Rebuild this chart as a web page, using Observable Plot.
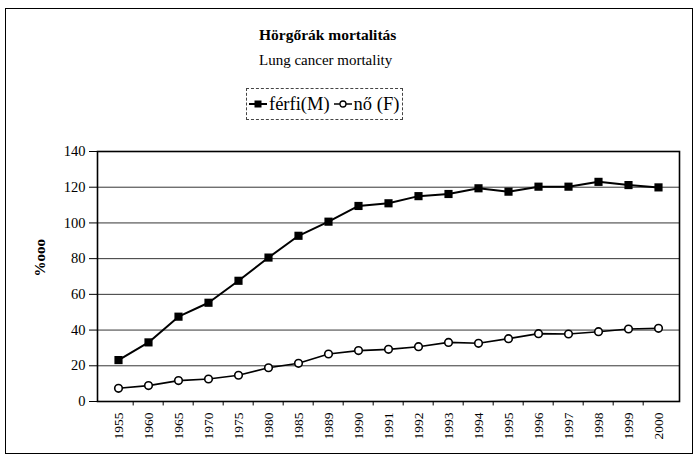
<!DOCTYPE html>
<html><head><meta charset="utf-8">
<script src="https://cdn.jsdelivr.net/npm/d3@7"></script>
<script src="https://cdn.jsdelivr.net/npm/@observablehq/plot@0.6"></script>
<style>
body{margin:0;background:#fff;font-family:"Liberation Serif","Times New Roman",serif;color:#000;}
#wrap{position:relative;width:696px;height:455px;overflow:hidden;background:#fff;}
#frame{position:absolute;left:5px;top:8px;width:688px;height:446px;border:1px solid #000;box-sizing:border-box;}
#title{position:absolute;left:259px;top:26px;font-size:15.5px;font-weight:bold;white-space:nowrap;}
#subtitle{position:absolute;left:259px;top:52px;font-size:15px;white-space:nowrap;}
#legend{position:absolute;left:246px;top:88px;height:30px;border:1px dashed #444;display:flex;align-items:center;padding:0 3px 0 2px;font-size:18.5px;white-space:nowrap;}
#legend .item{display:flex;align-items:center;margin-right:4px;}
#legend .item:last-child{margin-right:0;}
#legend svg{margin-right:2px;}
#chart{position:absolute;left:0;top:130px;}
</style></head>
<body>
<div id="wrap">
  <div id="frame"></div>
  <div id="title"></div>
  <div id="subtitle"></div>
  <div id="legend"></div>
  <div id="chart"></div>
</div>
<script>
const titleText = "Hörgőrák mortalitás";
const subtitleText = "Lung cancer mortality";
const yLabel = "%ooo";
const seriesNames = ["férfi(M)", "nő (F)"];
const years = ["1955","1960","1965","1970","1975","1980","1985","1989","1990","1991","1992","1993","1994","1995","1996","1997","1998","1999","2000"];
const male = [23.2, 33.1, 47.5, 55.3, 67.6, 80.6, 92.8, 100.7, 109.5, 111, 115, 116.2, 119.4, 117.5, 120.3, 120.3, 123, 121.2, 119.9];
const female = [7.4, 8.9, 11.7, 12.6, 14.7, 18.9, 21.4, 26.6, 28.5, 29.2, 30.7, 33.1, 32.6, 35.2, 38, 37.8, 39.1, 40.6, 41];
const yTicks = [0, 20, 40, 60, 80, 100, 120, 140];

document.getElementById("title").textContent = titleText;
document.getElementById("subtitle").textContent = subtitleText;

// legend
const leg = document.getElementById("legend");
seriesNames.forEach((name, i) => {
  const item = document.createElement("div");
  item.className = "item";
  const sw = i === 0
    ? '<svg width="18" height="12"><line x1="0" x2="18" y1="6" y2="6" stroke="#000" stroke-width="2"/><rect x="5.5" y="2.5" width="7" height="7" fill="#000"/></svg>'
    : '<svg width="18" height="12"><line x1="0" x2="18" y1="6" y2="6" stroke="#000" stroke-width="1.5"/><circle cx="9" cy="6" r="3" fill="#fff" stroke="#000" stroke-width="1.3"/></svg>';
  item.innerHTML = sw + "<span></span>";
  item.querySelector("span").textContent = name;
  leg.appendChild(item);
});

const data = years.map((y, i) => ({year: y, m: male[i], f: female[i]}));
const W = 696, H = 325, ML = 97, MR = 17, MT = 21, MB = 54;
const bw = (W - ML - MR) / years.length;

const chart = Plot.plot({
  width: W, height: H,
  marginLeft: ML, marginRight: MR, marginTop: MT, marginBottom: MB,
  style: {fontFamily: "Liberation Serif, Times New Roman, serif", fontSize: "14px", color: "#000", background: "transparent", overflow: "visible"},
  x: {type: "band", domain: years, padding: 0, label: null},
  y: {domain: [0, 140], ticks: yTicks, label: null},
  marks: [
    Plot.ruleY(yTicks, {stroke: "#000", strokeWidth: 0.8}),
    Plot.frame({stroke: "#000", strokeWidth: 1.6}),
    Plot.ruleX(years.slice(1), {x: d => d, dx: -bw / 2, y1: 0, y2: -2.5, stroke: "#000", strokeWidth: 1}),
    Plot.axisY({ticks: yTicks, tickSize: 8, tickPadding: 4, label: null, fontSize: 14.5}),
    Plot.axisX({tickSize: 0, tickRotate: -90, tickPadding: 11, fontSize: 13.5, label: null}),
    Plot.text([yLabel], {frameAnchor: "left", text: d => d, rotate: -90, dx: -57, fontWeight: "bold", fontSize: 15}),
    Plot.line(data, {x: "year", y: "m", stroke: "#000", strokeWidth: 2}),
    Plot.dot(data, {x: "year", y: "m", symbol: "square", fill: "#000", r: 4.6}),
    Plot.line(data, {x: "year", y: "f", stroke: "#000", strokeWidth: 1.6}),
    Plot.dot(data, {x: "year", y: "f", symbol: "circle", fill: "#fff", stroke: "#000", strokeWidth: 1.6, r: 3.8})
  ]
});
document.getElementById("chart").appendChild(chart);
</script>
</body></html>
